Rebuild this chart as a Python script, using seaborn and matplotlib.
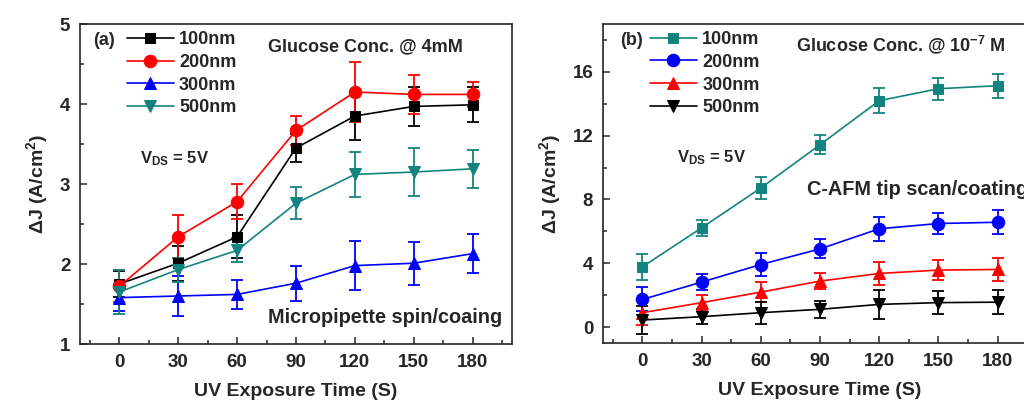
import matplotlib
matplotlib.use("Agg")
import matplotlib.pyplot as plt
import seaborn as sns

# time axis (s)
time_s = [0, 30, 60, 90, 120, 150, 180]

# panel (a): micropipette spin coating, glucose 4 mM
a_100 = [1.75, 2.01, 2.34, 3.45, 3.85, 3.97, 3.99]
a_100_err = [0.16, 0.22, 0.27, 0.18, 0.30, 0.24, 0.22]
a_200 = [1.72, 2.34, 2.78, 3.67, 4.15, 4.12, 4.12]
a_200_err = [0.20, 0.27, 0.22, 0.18, 0.37, 0.24, 0.16]
a_300 = [1.58, 1.60, 1.62, 1.76, 1.98, 2.01, 2.13]
a_300_err = [0.17, 0.25, 0.18, 0.22, 0.31, 0.27, 0.24]
a_500 = [1.65, 1.93, 2.17, 2.76, 3.12, 3.15, 3.19]
a_500_err = [0.28, 0.15, 0.15, 0.20, 0.28, 0.30, 0.24]

# panel (b): C-AFM tip scan coating, glucose 1e-7 M
b_100 = [3.78, 6.22, 8.72, 11.43, 14.19, 14.94, 15.13]
b_100_err = [0.80, 0.50, 0.70, 0.60, 0.80, 0.70, 0.75]
b_200 = [1.73, 2.82, 3.92, 4.90, 6.16, 6.49, 6.57]
b_200_err = [0.75, 0.50, 0.70, 0.60, 0.75, 0.65, 0.75]
b_300 = [0.90, 1.53, 2.19, 2.88, 3.36, 3.57, 3.61]
b_300_err = [0.80, 0.50, 0.65, 0.50, 0.70, 0.65, 0.70]
b_500 = [0.44, 0.65, 0.90, 1.11, 1.42, 1.53, 1.56]
b_500_err = [0.90, 0.45, 0.70, 0.55, 0.90, 0.70, 0.75]

labels = ["100nm", "200nm", "300nm", "500nm"]
markers = ["s", "o", "^", "v"]
msizes = [7.5, 9, 8.5, 8.5]
teal = "#13837f"

sns.set_style("ticks")
plt.rcParams["font.family"] = ["Liberation Sans", "DejaVu Sans"]
plt.rcParams["font.weight"] = "bold"
plt.rcParams["mathtext.fontset"] = "custom"
plt.rcParams["mathtext.rm"] = "Liberation Sans:bold"
plt.rcParams["mathtext.it"] = "Liberation Sans:bold"
plt.rcParams["mathtext.bf"] = "Liberation Sans:bold"

fig = plt.figure(figsize=(10.24, 4.03), dpi=100)
ax1 = fig.add_axes([0.0781, 0.1464, 0.4219, 0.794])
ax2 = fig.add_axes([0.5889, 0.1489, 0.4238, 0.7916])


def draw_panel(ax, series, errs, colors):
    for y, e, c, lab, m, ms in zip(series, errs, colors, labels, markers, msizes):
        ax.errorbar(time_s, y, yerr=e, fmt="none", ecolor=c, elinewidth=1.3,
                    capsize=4.5, capthick=1.3, zorder=2)
        sns.lineplot(x=time_s, y=y, ax=ax, color=c, marker=m, markersize=ms,
                     markeredgecolor=c, linewidth=1.2, label=lab, zorder=3)
    ax.set_xlim(-20, 200)
    ax.set_xticks(time_s)
    ax.set_xticks(range(-15, 200, 15), minor=True)
    ax.tick_params(axis="both", which="both", direction="in", labelsize=13.5,
                   width=1.1, pad=7)
    ax.tick_params(which="major", length=5)
    ax.tick_params(which="minor", length=3)
    for s in ax.spines.values():
        s.set_linewidth(1.2)
    ax.set_xlabel("UV Exposure Time (S)", fontsize=14, fontweight="bold", labelpad=9)
    ax.set_ylabel("ΔJ (A/cm$^{2}$)", fontsize=14, fontweight="bold", labelpad=7)
    ax.legend(loc="upper left", bbox_to_anchor=(0.108, 0.978), frameon=False,
              fontsize=13, handlelength=2.6, handletextpad=0.3,
              labelspacing=0.32, borderpad=0, borderaxespad=0)


draw_panel(ax1, [a_100, a_200, a_300, a_500],
           [a_100_err, a_200_err, a_300_err, a_500_err],
           ["black", "#ff0000", "#0000ff", teal])
ax1.set_ylim(1, 5)
ax1.set_yticks([1, 2, 3, 4, 5])
ax1.set_yticks([1.5, 2.5, 3.5, 4.5], minor=True)
ax1.text(0.03, 0.935, "(a)", transform=ax1.transAxes, fontsize=13, fontweight="bold")
ax1.text(0.435, 0.915, "Glucose Conc. @ 4mM", transform=ax1.transAxes, fontsize=13)
ax1.text(0.14, 0.565, "V$_{\\mathregular{DS}}$ = 5V", transform=ax1.transAxes, fontsize=12)
ax1.text(0.435, 0.065, "Micropipette spin/coaing", transform=ax1.transAxes, fontsize=14.3)

draw_panel(ax2, [b_100, b_200, b_300, b_500],
           [b_100_err, b_200_err, b_300_err, b_500_err],
           [teal, "#0000ff", "#ff0000", "black"])
ax2.set_ylim(-1, 19)
ax2.set_yticks([0, 4, 8, 12, 16])
ax2.set_yticks([2, 6, 10, 14, 18], minor=True)
ax2.text(0.04, 0.935, "(b)", transform=ax2.transAxes, fontsize=13, fontweight="bold")
ax2.text(0.445, 0.915, "Glucose Conc. @ 10$^{-7}$ M", transform=ax2.transAxes, fontsize=13)
ax2.text(0.17, 0.565, "V$_{\\mathregular{DS}}$ = 5V", transform=ax2.transAxes, fontsize=12)
ax2.text(0.47, 0.465, "C-AFM tip scan/coating", transform=ax2.transAxes, fontsize=14.3)

fig.savefig("out.png", dpi=100)
